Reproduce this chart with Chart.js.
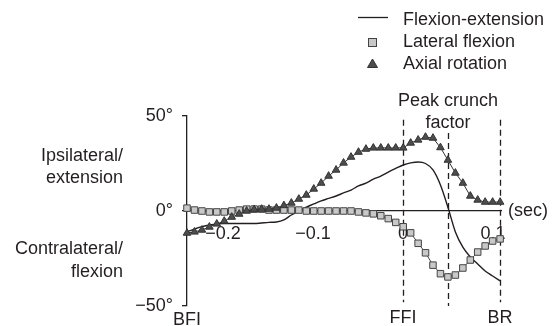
<!DOCTYPE html>
<html>
<head>
<meta charset="utf-8">
<script src="https://cdn.jsdelivr.net/npm/chart.js@4.4.1/dist/chart.umd.min.js"></script>
<style>
  html, body { margin: 0; padding: 0; background: #fff; }
  #wrap { position: relative; width: 558px; height: 326px; }
</style>
</head>
<body>
<div id="wrap"><canvas id="chart"></canvas></div>
<script>
// tiempos de muestreo (s)
const times = [
  -0.2400, -0.2317, -0.2234, -0.2151, -0.2069, -0.1986, -0.1903, -0.1820, -0.1737, -0.1654,
  -0.1571, -0.1489, -0.1406, -0.1323, -0.1240, -0.1157, -0.1074, -0.0991, -0.0909, -0.0826,
  -0.0743, -0.0660, -0.0577, -0.0494, -0.0411, -0.0329, -0.0246, -0.0163, -0.0080, 0.0003,
  0.0086, 0.0169, 0.0251, 0.0334, 0.0417, 0.0500, 0.0583, 0.0666, 0.0749, 0.0831,
  0.0914, 0.0997, 0.1080
];

const flexionExtension = [
  -11, -9.5, -8.2, -7.4, -6.8, -6.6, -6.6, -6.6, -6.6, -6.6,
  -6.3, -6, -5.8, -4.7, -2.1, 0, 2.1, 3.7, 5.3, 6.6,
  7.9, 9.5, 11, 13.2, 14.7, 16.8, 18.4, 20.5, 22.4, 24.2,
  25.3, 25.8, 25, 21.6, 13.7, 2, -11, -19, -24.2, -27.9,
  -31.6, -34.2, -36.8
];

const lateralFlexion = [
  1.5, 0.5, 0, -0.5, -0.5, -0.5, 0, 0.5, 1, 1,
  1, 0.5, 0.5, 0.5, 0.5, 0.5, 0, 0, 0, 0,
  0, 0, 0, -0.5, -1, -1.5, -2.5, -4, -6, -8.3,
  -11.5, -17, -22, -28.5, -33, -34.7, -33.7, -30, -25.8, -21.6,
  -18.4, -15.8, -14.7
];

const axialRotation = [
  -11.6, -11, -10, -8.4, -6.8, -5.3, -3.2, -1.6, 0, 0.8,
  1, 1, 1.6, 2.9, 4.2, 6.3, 8.4, 11.6, 14.7, 18.4,
  21.6, 25.3, 28.4, 31, 32.6, 33.2, 33.2, 33.2, 33.2, 33.2,
  35.8, 37.4, 38.9, 38.4, 33.4, 26.8, 20, 14.7, 7.9, 5.8,
  4.7, 4.7, 4.7
];

const seriesLabels = ['Flexion-extension', 'Lateral flexion', 'Axial rotation'];

// eventos: BFI, FFI, pico, BR
const eventTimes = [-0.24, 0, 0.05, 0.108];
const eventLabels = ['BFI', 'FFI', '', 'BR'];
const eventLineTop = [null, 48, 41, 48];
const eventLineBottom = [null, -48, -50, -48];

const yTicks = [-50, 0, 50];

const FONT = "'Liberation Sans', Arial, Helvetica, sans-serif";
const INK = '#231f20';

const toXY = arr => arr.map((v, i) => ({ x: times[i], y: v }));

const fmtDeg = v => (v < 0 ? '\u2212' : '') + Math.abs(v) + '\u00b0';
const fmtSec = v => {
  const r = Math.round(v * 10) / 10;
  if (r === 0) return '0';
  return (r < 0 ? '\u2212' : '') + Math.abs(r).toFixed(1);
};

/**
 * Dibuja líneas punteadas de eventos, textos y leyenda
 */
const annotations = {
  id: 'annotations',
  beforeDatasetsDraw(chart) {
    const { ctx, scales: { x, y } } = chart;
    ctx.save();
    ctx.strokeStyle = INK;
    ctx.lineWidth = 1.3;
    ctx.setLineDash([6, 4]);
    eventTimes.forEach((t, i) => {
      if (eventLineTop[i] === null) return;
      const px = Math.round(x.getPixelForValue(t)) + 0.5;
      ctx.beginPath();
      ctx.moveTo(px, y.getPixelForValue(eventLineTop[i]));
      ctx.lineTo(px, y.getPixelForValue(eventLineBottom[i]));
      ctx.stroke();
    });
    ctx.restore();
  },
  afterDraw(chart) {
    const { ctx, scales: { x } } = chart;
    ctx.save();
    ctx.fillStyle = INK;
    ctx.font = '18px ' + FONT;
    ctx.textBaseline = 'alphabetic';

    // etiquetas de eventos bajo el eje
    ctx.textAlign = 'center';
    eventTimes.forEach((t, i) => {
      if (!eventLabels[i]) return;
      ctx.fillText(eventLabels[i], x.getPixelForValue(t), i === 0 ? 325 : 323);
    });

    // pico
    const peakX = x.getPixelForValue(eventTimes[2]);
    ctx.fillText('Peak crunch', peakX, 106);
    ctx.fillText('factor', peakX, 128);

    // rótulos del eje y
    ctx.textAlign = 'right';
    ctx.fillText('Ipsilateral/', 123, 161);
    ctx.fillText('extension', 123, 183);
    ctx.fillText('Contralateral/', 123, 254);
    ctx.fillText('flexion', 123, 277);

    // unidad del eje x
    ctx.textAlign = 'left';
    ctx.fillText('(sec)', 508, 216);

    // leyenda
    ctx.fillText(seriesLabels[0], 403, 25);
    ctx.fillText(seriesLabels[1], 403, 47);
    ctx.fillText(seriesLabels[2], 403, 69);

    ctx.strokeStyle = INK;
    ctx.lineWidth = 1.3;
    ctx.beginPath();
    ctx.moveTo(358, 17.5);
    ctx.lineTo(388, 17.5);
    ctx.stroke();

    ctx.fillStyle = '#c8c8c8';
    ctx.strokeStyle = '#444';
    ctx.lineWidth = 1;
    ctx.fillRect(368, 38, 9, 9);
    ctx.strokeRect(368.5, 38.5, 8, 8);

    ctx.fillStyle = '#4d4d4d';
    ctx.strokeStyle = '#333';
    ctx.beginPath();
    ctx.moveTo(372.5, 59);
    ctx.lineTo(377.5, 67.5);
    ctx.lineTo(367.5, 67.5);
    ctx.closePath();
    ctx.fill();
    ctx.stroke();

    ctx.restore();
  }
};

new Chart(document.getElementById('chart'), {
  type: 'line',
  data: {
    datasets: [
      {
        label: seriesLabels[0],
        data: toXY(flexionExtension),
        borderColor: INK,
        borderWidth: 1.4,
        pointRadius: 0,
        tension: 0.4,
        cubicInterpolationMode: 'monotone',
        fill: false,
        order: 3
      },
      {
        label: seriesLabels[1],
        data: toXY(lateralFlexion),
        borderColor: '#444',
        borderWidth: 1,
        pointStyle: 'rect',
        pointRadius: 4.6,
        pointBackgroundColor: '#c8c8c8',
        pointBorderColor: '#444',
        pointBorderWidth: 1,
        tension: 0,
        fill: false,
        clip: false,
        order: 2
      },
      {
        label: seriesLabels[2],
        data: toXY(axialRotation),
        borderColor: '#333',
        borderWidth: 1,
        pointStyle: 'triangle',
        pointRadius: 4.4,
        pointBackgroundColor: '#4d4d4d',
        pointBorderColor: '#333',
        pointBorderWidth: 1,
        tension: 0,
        fill: false,
        clip: false,
        order: 1
      }
    ]
  },
  options: {
    responsive: true,
    maintainAspectRatio: false,
    animation: false,
    devicePixelRatio: 1,
    layout: { padding: { left: 127, top: 116, right: 57, bottom: 20 } },
    plugins: {
      legend: { display: false },
      tooltip: { enabled: false }
    },
    scales: {
      x: {
        type: 'linear',
        position: { y: 0 },
        min: -0.24,
        max: 0.109,
        border: { display: true, color: INK, width: 1.3 },
        grid: { display: true, drawOnChartArea: false, drawTicks: false, color: INK },
        ticks: {
          stepSize: 0.1,
          includeBounds: false,
          padding: 12,
          color: INK,
          font: { family: FONT, size: 18 },
          maxRotation: 0,
          callback: v => fmtSec(v)
        }
      },
      y: {
        type: 'linear',
        min: -50,
        max: 50,
        afterFit: s => { s.width = 60; },
        afterBuildTicks: s => { s.ticks = yTicks.map(v => ({ value: v })); },
        border: { display: true, color: INK, width: 1.3 },
        grid: { display: true, drawOnChartArea: false, drawTicks: true, tickLength: 5, color: INK, lineWidth: 1.3 },
        ticks: {
          padding: 9,
          color: INK,
          font: { family: FONT, size: 18 },
          callback: v => fmtDeg(v)
        }
      }
    }
  },
  plugins: [annotations]
});
</script>
</body>
</html>
